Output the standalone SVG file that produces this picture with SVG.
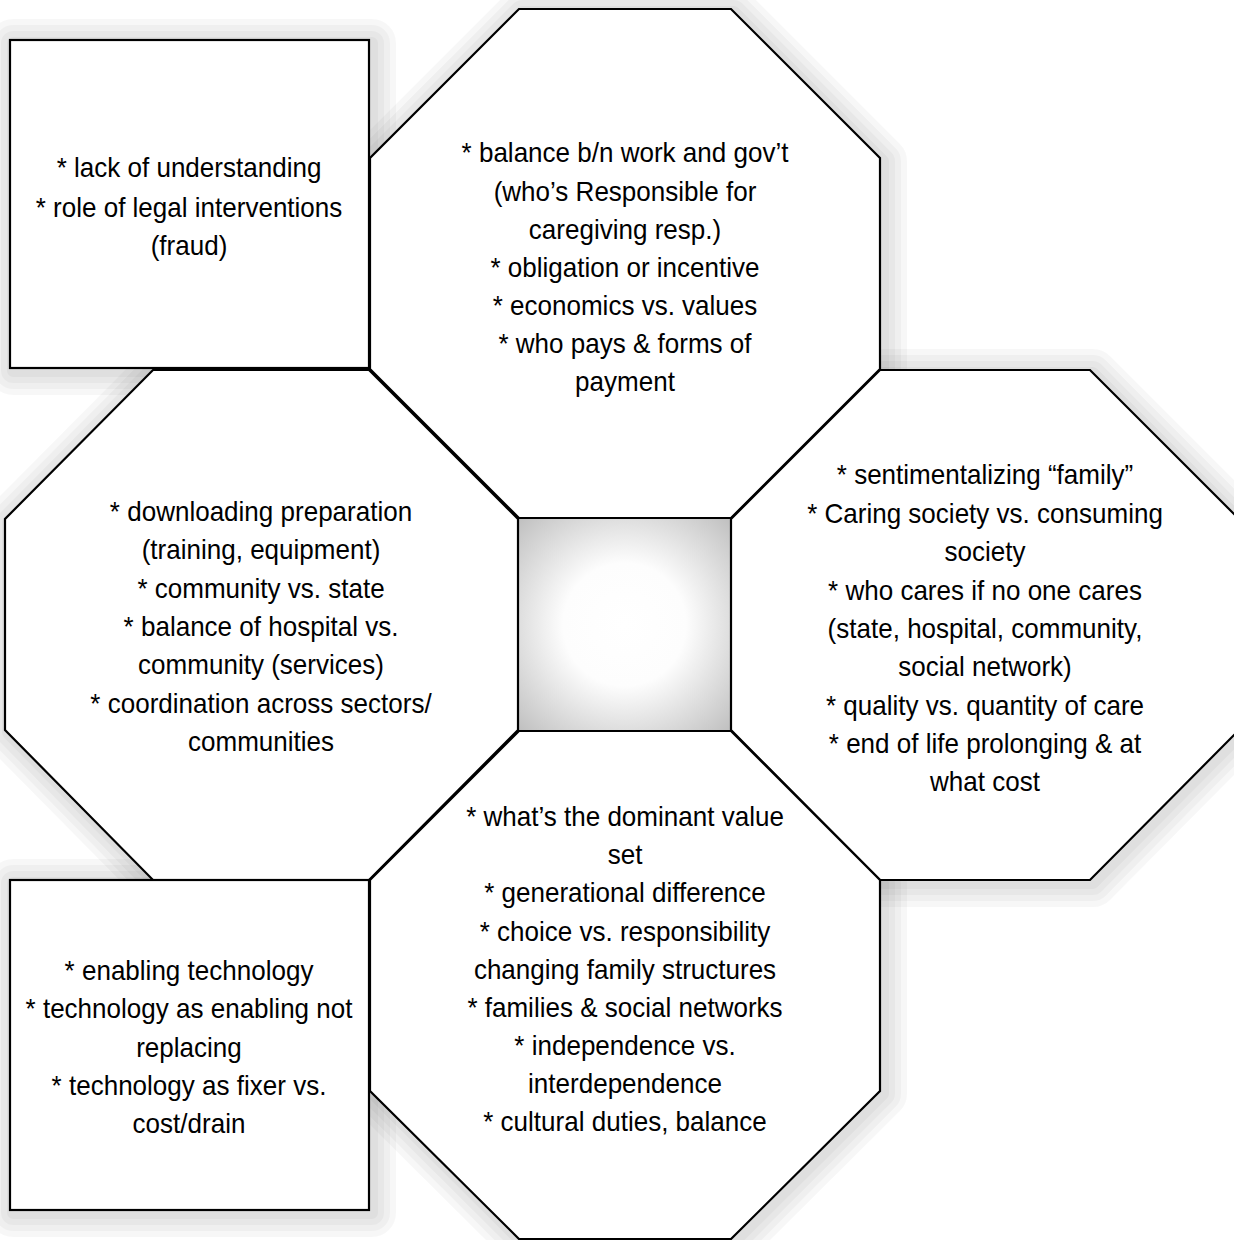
<svg xmlns="http://www.w3.org/2000/svg" width="1234" height="1240" viewBox="0 0 1234 1240">
<style>
.shape{fill:#ffffff;stroke:#000000;stroke-width:2.2;stroke-linejoin:miter}
.sh{fill:none;stroke:#000000;stroke-opacity:0.032;stroke-linejoin:round}
.t{font-family:"Liberation Sans",Arial,sans-serif;font-size:28px;fill:#000000;text-anchor:middle}
</style>
<defs>
<radialGradient id="centre" cx="0.5" cy="0.5" r="0.72">
<stop offset="0" stop-color="#ffffff"/>
<stop offset="0.4" stop-color="#fdfdfd"/>
<stop offset="1" stop-color="#bdbdbd"/>
</radialGradient>
<polygon id="p-top" points="519,9 731,9 880,158 880,369 731,518 519,518 370,369 370,158"/>
<polygon id="p-right" points="880,370 1090,370 1239,519 1239,730 1090,880 880,880 731,730 731,519"/>
<polygon id="p-left" points="153,370 369,370 518,519 518,730 369,880 153,880 5,730 5,519"/>
<polygon id="p-bottom" points="519,731 731,731 880,880 880,1091 731,1239 519,1239 370,1091 370,880"/>
<rect id="p-tl" x="10" y="40" width="359" height="328"/>
<rect id="p-bl" x="10" y="880" width="359" height="330"/>
</defs>
<rect x="0" y="0" width="1234" height="1240" fill="#ffffff"/>
<g id="shadows" transform="translate(3 3)">
<g class="sh" stroke-width="48"><use href="#p-top"/><use href="#p-right"/><use href="#p-left"/><use href="#p-bottom"/><use href="#p-tl"/><use href="#p-bl"/></g>
<g class="sh" stroke-width="36"><use href="#p-top"/><use href="#p-right"/><use href="#p-left"/><use href="#p-bottom"/><use href="#p-tl"/><use href="#p-bl"/></g>
<g class="sh" stroke-width="24"><use href="#p-top"/><use href="#p-right"/><use href="#p-left"/><use href="#p-bottom"/><use href="#p-tl"/><use href="#p-bl"/></g>
<g class="sh" stroke-width="12"><use href="#p-top"/><use href="#p-right"/><use href="#p-left"/><use href="#p-bottom"/><use href="#p-tl"/><use href="#p-bl"/></g>
</g>
<rect id="centre-gap" x="518" y="518" width="213" height="213" fill="url(#centre)"/>
<g id="connectors"></g>
<g id="node-top">
<polygon class="shape" points="519,9 731,9 880,158 880,369 731,518 519,518 370,369 370,158"/>
<g transform="translate(625 0) scale(0.93 1)">
<text class="t" x="0" y="162">* balance b/n work and gov’t</text>
<text class="t" x="0" y="201">(who’s Responsible for</text>
<text class="t" x="0" y="239">caregiving resp.)</text>
<text class="t" x="0" y="277">* obligation or incentive</text>
<text class="t" x="0" y="315">* economics vs. values</text>
<text class="t" x="0" y="353">* who pays &amp; forms of</text>
<text class="t" x="0" y="391">payment</text>
</g>
</g>
<g id="node-right">
<polygon class="shape" points="880,370 1090,370 1239,519 1239,730 1090,880 880,880 731,730 731,519"/>
<g transform="translate(985 0) scale(0.93 1)">
<text class="t" x="0" y="484">* sentimentalizing “family”</text>
<text class="t" x="0" y="523">* Caring society vs. consuming</text>
<text class="t" x="0" y="561">society</text>
<text class="t" x="0" y="600">* who cares if no one cares</text>
<text class="t" x="0" y="638">(state, hospital, community,</text>
<text class="t" x="0" y="676">social network)</text>
<text class="t" x="0" y="715">* quality vs. quantity of care</text>
<text class="t" x="0" y="753">* end of life prolonging &amp; at</text>
<text class="t" x="0" y="791">what cost</text>
</g>
</g>
<g id="node-left">
<polygon class="shape" points="153,370 369,370 518,519 518,730 369,880 153,880 5,730 5,519"/>
<g transform="translate(261 0) scale(0.93 1)">
<text class="t" x="0" y="521">* downloading preparation</text>
<text class="t" x="0" y="559">(training, equipment)</text>
<text class="t" x="0" y="598">* community vs. state</text>
<text class="t" x="0" y="636">* balance of hospital vs.</text>
<text class="t" x="0" y="674">community (services)</text>
<text class="t" x="0" y="713">* coordination across sectors/</text>
<text class="t" x="0" y="751">communities</text>
</g>
</g>
<g id="node-bottom">
<polygon class="shape" points="519,731 731,731 880,880 880,1091 731,1239 519,1239 370,1091 370,880"/>
<g transform="translate(625 0) scale(0.93 1)">
<text class="t" x="0" y="826">* what’s the dominant value</text>
<text class="t" x="0" y="864">set</text>
<text class="t" x="0" y="902">* generational difference</text>
<text class="t" x="0" y="941">* choice vs. responsibility</text>
<text class="t" x="0" y="979">changing family structures</text>
<text class="t" x="0" y="1017">* families &amp; social networks</text>
<text class="t" x="0" y="1055">* independence vs.</text>
<text class="t" x="0" y="1093">interdependence</text>
<text class="t" x="0" y="1131">* cultural duties, balance</text>
</g>
</g>
<g id="node-topleft">
<rect class="shape" x="10" y="40" width="359" height="328"/>
<g transform="translate(189 0) scale(0.93 1)">
<text class="t" x="0" y="177">* lack of understanding</text>
<text class="t" x="0" y="217">* role of legal interventions</text>
<text class="t" x="0" y="255">(fraud)</text>
</g>
</g>
<g id="node-bottomleft">
<rect class="shape" x="10" y="880" width="359" height="330"/>
<g transform="translate(189 0) scale(0.93 1)">
<text class="t" x="0" y="980">* enabling technology</text>
<text class="t" x="0" y="1018">* technology as enabling not</text>
<text class="t" x="0" y="1057">replacing</text>
<text class="t" x="0" y="1095">* technology as fixer vs.</text>
<text class="t" x="0" y="1133">cost/drain</text>
</g>
</g>
</svg>
